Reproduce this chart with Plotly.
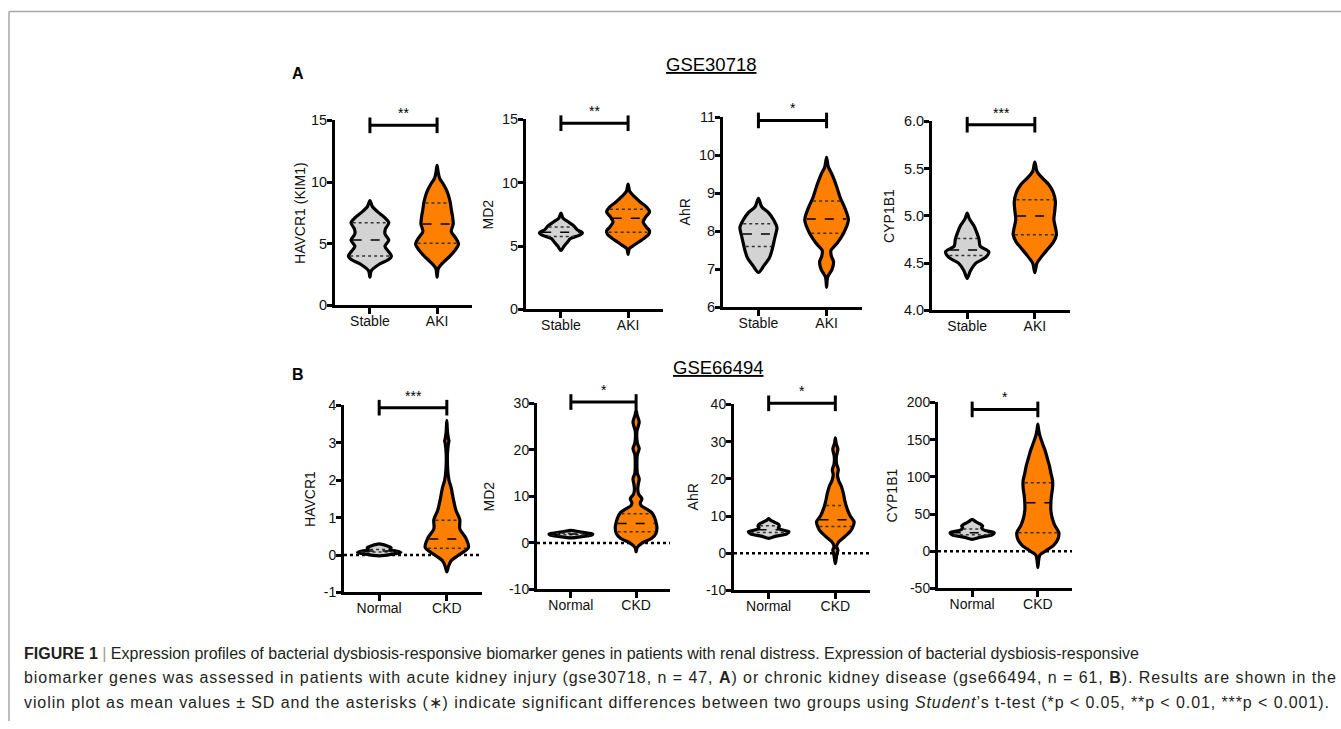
import numpy as np
import plotly.graph_objects as go

W, H = 1341, 729

# ---------------- data ----------------
genes = ["HAVCR1 (KIM1)", "MD2", "AhR", "CYP1B1", "HAVCR1", "MD2", "AhR", "CYP1B1"]
groups_a = ["Stable", "AKI"]
groups_b = ["Normal", "CKD"]
significance = ["**", "**", "*", "***", "***", "*", "*", "*"]
bracket_values = [14.6, 14.7, 10.92, 5.965, 3.94, 30.3, 40.3, 190.6]

y_ranges = [[0, 15], [0, 15], [6, 11], [4, 6], [-1, 4], [-10, 30], [-10, 40], [-50, 200]]
y_tickvals = [[0, 5, 10, 15], [0, 5, 10, 15], [6, 7, 8, 9, 10, 11], [4.0, 4.5, 5.0, 5.5, 6.0],
              [-1, 0, 1, 2, 3, 4], [-10, 0, 10, 20, 30], [-10, 0, 10, 20, 30, 40],
              [-50, 0, 50, 100, 150, 200]]
y_ticktext = [["0", "5", "10", "15"], ["0", "5", "10", "15"], ["6", "7", "8", "9", "10", "11"],
              ["4.0", "4.5", "5.0", "5.5", "6.0"], ["-1", "0", "1", "2", "3", "4"],
              ["-10", "0", "10", "20", "30"], ["-10", "0", "10", "20", "30", "40"],
              ["-50", "0", "50", "100", "150", "200"]]

# violin density profiles: levels, relative half-widths, quartiles (q1, median, q3)
a1_ctrl_y = [2.3, 2.8, 3.3, 3.7, 4.0, 4.4, 4.8, 5.3, 5.8, 6.2, 6.7, 7.1, 7.6, 8.0, 8.5]
a1_ctrl_w = [0.0, 0.06, 0.4, 0.85, 1.0, 0.85, 0.7, 0.88, 0.7, 0.72, 0.88, 0.7, 0.35, 0.12, 0.0]
a1_ctrl_q = [4.0, 5.3, 6.7]
a1_dis_y = [2.3, 3.0, 3.5, 4.0, 4.5, 5.0, 5.5, 6.0, 6.6, 7.2, 7.8, 8.3, 8.8, 9.3, 9.8, 10.3, 10.8, 11.35]
a1_dis_w = [0.0, 0.06, 0.3, 0.6, 0.85, 1.0, 0.85, 0.66, 0.75, 0.72, 0.66, 0.62, 0.55, 0.45, 0.3, 0.12, 0.05, 0.0]
a1_dis_q = [5.05, 6.6, 8.3]

a2_ctrl_y = [4.65, 5.0, 5.3, 5.6, 5.85, 6.05, 6.3, 6.6, 6.9, 7.2, 7.6]
a2_ctrl_w = [0.0, 0.15, 0.3, 0.45, 0.85, 1.0, 0.75, 0.6, 0.35, 0.1, 0.0]
a2_ctrl_q = [5.75, 6.1, 6.5]
a2_dis_y = [4.35, 4.8, 5.1, 5.5, 5.9, 6.2, 6.5, 6.9, 7.3, 7.7, 8.1, 8.5, 8.9, 9.3, 9.9]
a2_dis_w = [0.0, 0.06, 0.3, 0.65, 0.95, 1.0, 0.85, 0.7, 0.82, 1.0, 0.85, 0.55, 0.3, 0.08, 0.0]
a2_dis_q = [6.1, 7.2, 7.9]

a3_ctrl_y = [6.92, 7.1, 7.3, 7.5, 7.7, 7.9, 8.1, 8.3, 8.5, 8.65, 8.87]
a3_ctrl_w = [0.0, 0.25, 0.5, 0.62, 0.7, 0.78, 0.85, 0.7, 0.45, 0.15, 0.0]
a3_ctrl_q = [7.6, 7.93, 8.2]
a3_dis_y = [6.53, 6.8, 7.0, 7.2, 7.35, 7.5, 7.7, 7.95, 8.3, 8.6, 8.9, 9.2, 9.5, 9.7, 9.95]
a3_dis_w = [0.0, 0.05, 0.25, 0.32, 0.22, 0.2, 0.5, 0.78, 1.0, 0.85, 0.62, 0.45, 0.25, 0.08, 0.0]
a3_dis_q = [7.95, 8.33, 8.8]

a4_ctrl_y = [4.34, 4.42, 4.5, 4.56, 4.62, 4.68, 4.75, 4.82, 4.9, 4.97, 5.03]
a4_ctrl_w = [0.0, 0.15, 0.4, 0.85, 1.0, 0.6, 0.55, 0.45, 0.3, 0.1, 0.0]
a4_ctrl_q = [4.58, 4.64, 4.76]
a4_dis_y = [4.4, 4.5, 4.58, 4.65, 4.72, 4.8, 4.88, 4.96, 5.05, 5.15, 5.25, 5.33, 5.4, 5.47, 5.57]
a4_dis_w = [0.0, 0.1, 0.35, 0.6, 0.85, 1.0, 0.95, 0.88, 0.92, 0.95, 0.85, 0.65, 0.35, 0.1, 0.0]
a4_dis_q = [4.8, 5.0, 5.17]

b1_ctrl_y = [-0.02, 0.03, 0.07, 0.11, 0.15, 0.2, 0.25, 0.3]
b1_ctrl_w = [0.0, 0.7, 1.0, 0.75, 0.5, 0.55, 0.35, 0.0]
b1_ctrl_q = [0.08, 0.11, 0.15]
b1_dis_y = [-0.45, -0.3, -0.15, 0.0, 0.2, 0.45, 0.7, 0.95, 1.2, 1.5, 1.8, 2.0, 2.3, 2.7, 3.0, 3.05, 3.1, 3.3, 3.6]
b1_dis_w = [0.0, 0.08, 0.2, 0.55, 1.0, 0.88, 0.6, 0.6, 0.42, 0.3, 0.2, 0.1, 0.04, 0.03, 0.08, 0.1, 0.08, 0.03, 0.0]
b1_dis_q = [0.18, 0.43, 0.93]

b2_ctrl_y = [1.1, 1.4, 1.7, 1.9, 2.1, 2.4, 2.7]
b2_ctrl_w = [0.0, 0.6, 1.0, 1.05, 0.8, 0.4, 0.0]
b2_ctrl_q = [1.75, 1.9, 2.1]
b2_dis_y = [-1.9, -1.0, 0, 1.0, 2.0, 3.3, 4.5, 5.5, 6.5, 7.3, 8.0, 8.6, 9.5, 10.5, 11.5, 12.5, 13.8,
            15.0, 17, 19, 20.3, 21.5, 24, 26, 27.5, 28.5]
b2_dis_w = [0.0, 0.05, 0.3, 0.75, 0.95, 1.0, 0.95, 0.88, 0.75, 0.5, 0.25, 0.2, 0.28, 0.12, 0.08, 0.1, 0.15,
            0.06, 0.04, 0.06, 0.15, 0.06, 0.04, 0.15, 0.05, 0.0]
b2_dis_q = [2.4, 4.2, 6.3]

b3_ctrl_y = [4.0, 4.6, 5.2, 5.8, 6.3, 6.8, 7.3, 7.8, 8.4, 8.9, 9.3]
b3_ctrl_w = [0.0, 0.35, 0.85, 0.95, 0.6, 0.45, 0.5, 0.45, 0.25, 0.08, 0.0]
b3_ctrl_q = [5.6, 6.3, 7.4]
b3_dis_y = [-2.8, -1.5, 0, 0.8, 1.8, 3.0, 4.5, 6.0, 7.5, 8.5, 10, 12, 14, 16, 18, 19.5, 21, 22.5,
            24, 26, 28, 29.5, 31]
b3_dis_w = [0.0, 0.04, 0.08, 0.12, 0.06, 0.15, 0.45, 0.72, 0.85, 0.88, 0.7, 0.55, 0.45, 0.38, 0.28, 0.16,
            0.1, 0.14, 0.06, 0.05, 0.12, 0.04, 0.0]
b3_dis_q = [7.2, 9.0, 12.8]

b4_ctrl_y = [16, 19, 22, 25, 28, 31, 34, 37, 40, 43]
b4_ctrl_w = [0.0, 0.4, 0.95, 1.05, 0.6, 0.45, 0.5, 0.35, 0.15, 0.0]
b4_ctrl_q = [22, 25, 30]
b4_dis_y = [-22, -12, -5, 0, 8, 16, 25, 35, 45, 55, 65, 75, 85, 95, 105, 115, 125, 135, 145, 155, 163, 171]
b4_dis_w = [0.0, 0.04, 0.1, 0.35, 0.75, 0.95, 1.0, 0.8, 0.68, 0.62, 0.62, 0.65, 0.7, 0.7, 0.62, 0.55,
            0.45, 0.35, 0.22, 0.1, 0.04, 0.0]
b4_dis_q = [25, 65, 92]

violins = [
    ((a1_ctrl_y, a1_ctrl_w, a1_ctrl_q), (a1_dis_y, a1_dis_w, a1_dis_q)),
    ((a2_ctrl_y, a2_ctrl_w, a2_ctrl_q), (a2_dis_y, a2_dis_w, a2_dis_q)),
    ((a3_ctrl_y, a3_ctrl_w, a3_ctrl_q), (a3_dis_y, a3_dis_w, a3_dis_q)),
    ((a4_ctrl_y, a4_ctrl_w, a4_ctrl_q), (a4_dis_y, a4_dis_w, a4_dis_q)),
    ((b1_ctrl_y, b1_ctrl_w, b1_ctrl_q), (b1_dis_y, b1_dis_w, b1_dis_q)),
    ((b2_ctrl_y, b2_ctrl_w, b2_ctrl_q), (b2_dis_y, b2_dis_w, b2_dis_q)),
    ((b3_ctrl_y, b3_ctrl_w, b3_ctrl_q), (b3_dis_y, b3_dis_w, b3_dis_q)),
    ((b4_ctrl_y, b4_ctrl_w, b4_ctrl_q), (b4_dis_y, b4_dis_w, b4_dis_q)),
]

# ---------------- layout geometry (target picture pixels: left, right, top, bottom) ----------------
boxes = [(335, 472, 120, 305), (526, 663, 119, 309), (723, 862, 117, 307), (932, 1070, 121, 310),
         (344, 482, 405, 592), (537, 670, 403, 589), (734, 870, 404, 590), (938, 1072, 402, 588)]
title_x = [300, 488, 685, 889, 310, 489, 693, 892]

FONT = "Liberation Sans, Arial, sans-serif"
CTRL_COLOR = "#d3d3d3"
DIS_COLOR = "#ff8000"
HALF_W = 0.32
X_RANGE = [-0.52, 1.52]
CAP_PX = 8
# vertical calibration of the photographed page (picture y = Y_OFF + Y_SCALE * layout y)
Y_OFF, Y_SCALE = 7.6, 0.978


def px_x(p):
    return p / W


def px_y(p):
    return 1 - ((p - Y_OFF) / Y_SCALE) / H


fig = go.Figure()
layout = dict(width=W, height=H, margin=dict(l=0, r=0, t=0, b=0), paper_bgcolor="white",
              plot_bgcolor="white", showlegend=False, shapes=[], annotations=[])

for i in range(8):
    n = "" if i == 0 else str(i + 1)
    xa, ya = "x" + n, "y" + n
    l, r, t, b = boxes[i]
    tick_size = 14.5 if i < 4 else 14
    groups = groups_a if i < 4 else groups_b
    layout["xaxis" + n] = dict(domain=[px_x(l), px_x(r)], anchor=ya, range=X_RANGE, tickvals=[0, 1],
                               ticktext=groups, showline=True, linewidth=3, linecolor="black",
                               ticks="outside", ticklen=6, tickwidth=3, tickcolor="black",
                               ticklabelstandoff=-5,
                               showgrid=False, zeroline=False, fixedrange=True,
                               tickfont=dict(family=FONT, size=14, color="#111"))
    layout["yaxis" + n] = dict(domain=[px_y(b), px_y(t)], anchor=xa, range=y_ranges[i],
                               tickvals=y_tickvals[i], ticktext=y_ticktext[i], showline=True,
                               linewidth=3, linecolor="black", ticks="outside", ticklen=5,
                               tickwidth=3, tickcolor="black", showgrid=False, zeroline=False,
                               ticklabelstandoff=-3, fixedrange=True,
                               tickfont=dict(family=FONT, size=tick_size, color="#111"))

    # dotted zero reference line for panel B
    if i >= 4:
        fig.add_trace(go.Scatter(x=X_RANGE, y=[0, 0], mode="lines", xaxis=xa, yaxis=ya,
                                 line=dict(color="black", width=2.5, dash="dot"), hoverinfo="skip"))

    for g, (lev, wid, q) in enumerate(violins[i]):
        lev = np.asarray(lev, float)
        wid = np.asarray(wid, float) * HALF_W
        xs = np.concatenate([g + wid, (g - wid)[::-1][1:]])
        ys = np.concatenate([lev, lev[::-1][1:]])
        fig.add_trace(go.Scatter(x=xs, y=ys, mode="lines", fill="toself", xaxis=xa, yaxis=ya,
                                 fillcolor=CTRL_COLOR if g == 0 else DIS_COLOR,
                                 line=dict(color="black", width=3.2, shape="spline", smoothing=0.8),
                                 hoverinfo="skip"))
        for k, qv in enumerate(q):
            hw = np.interp(qv, lev, wid) - 0.025
            if hw <= 0:
                continue
            fig.add_trace(go.Scatter(x=[g - hw, g + hw], y=[qv, qv], mode="lines", xaxis=xa, yaxis=ya,
                                     line=dict(color="black" if k == 1 else "#333",
                                               width=1.5, dash="dash" if k == 1 else "dot"),
                                     hoverinfo="skip"))

    # significance bracket
    r0, r1 = y_ranges[i]
    frac = (bracket_values[i] - r0) / (r1 - r0)
    cap = CAP_PX / ((b - t) / Y_SCALE)
    yd = ya + " domain"
    layout["shapes"].append(dict(type="line", xref=xa, yref=yd, x0=0, x1=1, y0=frac, y1=frac,
                                 line=dict(color="black", width=3)))
    for xv in (0, 1):
        layout["shapes"].append(dict(type="line", xref=xa, yref=yd, x0=xv, x1=xv,
                                     y0=frac - cap, y1=frac + cap, line=dict(color="black", width=3)))
    layout["annotations"].append(dict(xref=xa, yref=yd, x=0.5, y=frac, text=significance[i],
                                      showarrow=False, yanchor="middle", yshift=12,
                                      font=dict(family=FONT, size=14, color="black")))
    # y-axis title
    layout["annotations"].append(dict(xref="paper", yref="paper", x=px_x(title_x[i]),
                                      y=px_y((t + b) / 2), text=genes[i], textangle=-90,
                                      showarrow=False, xanchor="center", yanchor="middle",
                                      font=dict(family=FONT, size=14, color="#111")))

# panel labels and dataset titles
for txt, x, y, bold in [("A", 298, 73, True), ("B", 298, 374, True),
                        ("GSE30718", 711, 64, False), ("GSE66494", 718, 367, False)]:
    layout["annotations"].append(dict(xref="paper", yref="paper", x=px_x(x), y=px_y(y),
                                      text=("<b>%s</b>" % txt) if bold else ("<u>%s</u>" % txt),
                                      showarrow=False, xanchor="center", yanchor="middle",
                                      font=dict(family=FONT, size=16 if bold else 18.5, color="black")))

caption = [
    "<b>FIGURE 1</b> <span style='color:#999'>|</span> Expression profiles of bacterial dysbiosis-responsive "
    "biomarker genes in patients with renal distress. Expression of bacterial dysbiosis-responsive",
    "biomarker genes was assessed in patients with acute kidney injury (gse30718, n = 47, <b>A</b>) or "
    "chronic kidney disease (gse66494, n = 61, <b>B</b>). Results are shown in the",
    "violin plot as mean values ± SD and the asterisks (∗) indicate significant differences between two "
    "groups using <i>Student</i>’s t-test (*p &lt; 0.05, **p &lt; 0.01, ***p &lt; 0.001).",
]
caption_spacing = [0.0, 0.95, 0.91]
for k, line in enumerate(caption):
    txt = line if caption_spacing[k] == 0 else \
        "<span style='letter-spacing:%.2fpx'>%s</span>" % (caption_spacing[k], line)
    layout["annotations"].append(dict(xref="paper", yref="paper", x=px_x(22), y=px_y(653 + 24.5 * k),
                                      text=txt, showarrow=False, xanchor="left", yanchor="middle",
                                      font=dict(family=FONT, size=16, color="#231f20")))

# frame
layout["shapes"].append(dict(type="line", xref="paper", yref="paper", x0=px_x(9), x1=px_x(9),
                             y0=0, y1=px_y(11), line=dict(color="#a6a6a6", width=1.5)))
layout["shapes"].append(dict(type="line", xref="paper", yref="paper", x0=px_x(9), x1=1,
                             y0=px_y(11), y1=px_y(11), line=dict(color="#a6a6a6", width=1.5)))

fig.update_layout(**layout)
fig.write_html(
    "out.html",
    config={"displayModeBar": False},
    post_script=("document.documentElement.style.overflow='hidden';"
                 "document.body.style.margin='0';document.body.style.overflow='hidden';"
                 "var gd=document.getElementById('{plot_id}');"
                 "gd.style.position='fixed';gd.style.left='0px';gd.style.top='0px';"),
)
